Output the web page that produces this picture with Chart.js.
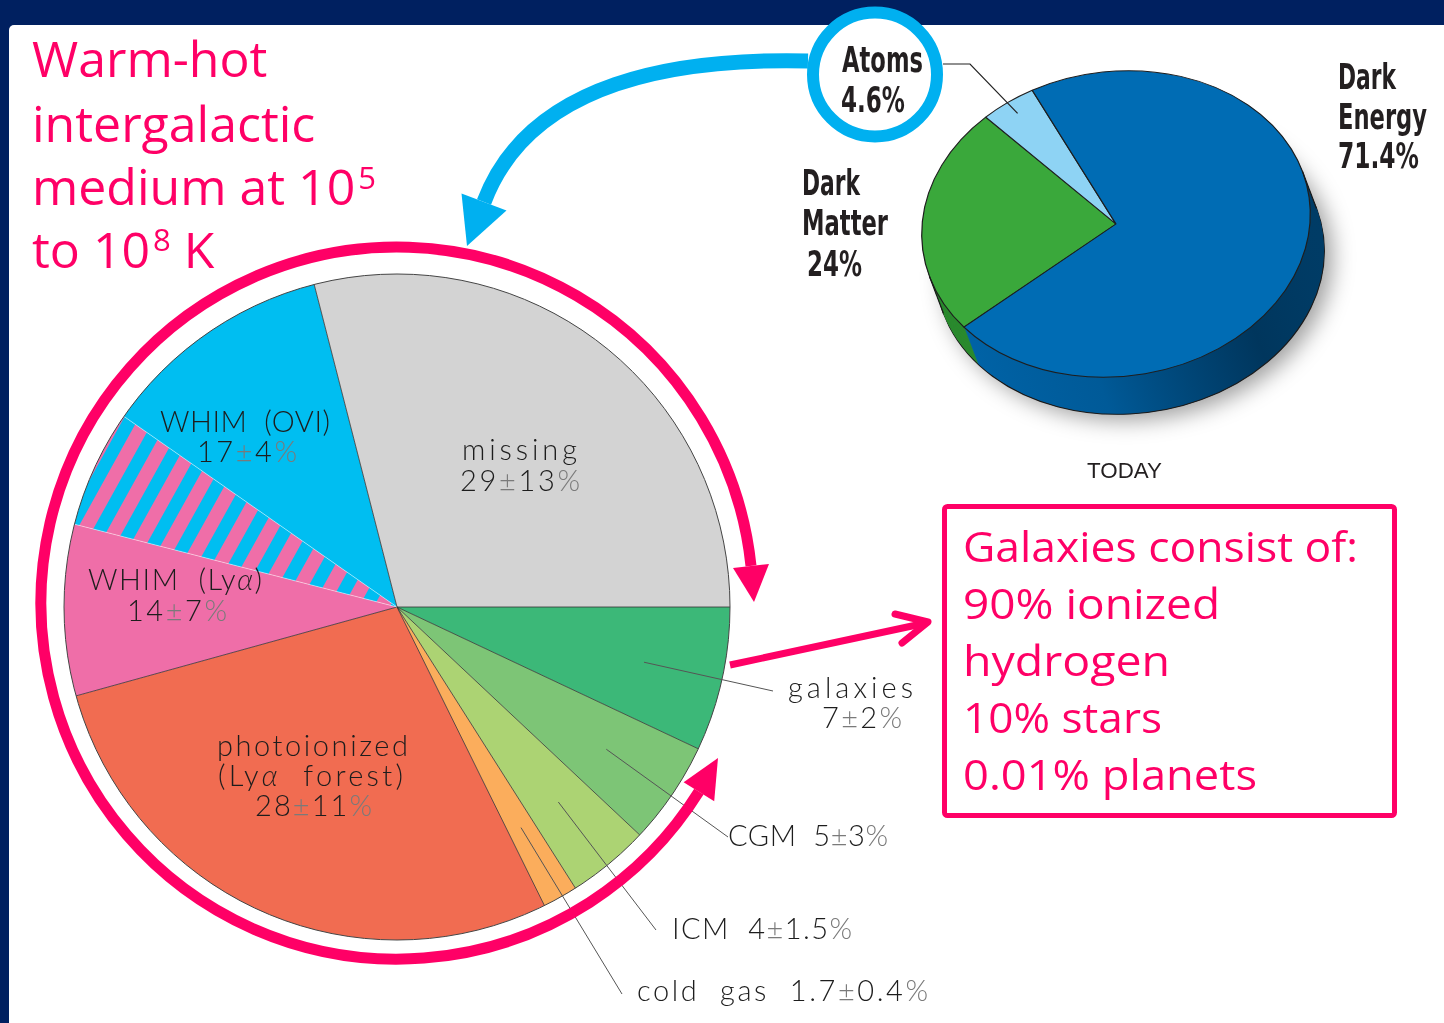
<!DOCTYPE html>
<html lang="en">
<head>
<meta charset="utf-8">
<title>Where are the baryons?</title>
<script src="https://cdn.jsdelivr.net/npm/chart.js@4/dist/chart.umd.min.js"></script>
<style>
  html, body { margin: 0; padding: 0; }
  body { position: relative; width: 1444px; height: 1023px; overflow: hidden; background: #002060; }
  #sheet { position: absolute; left: 9px; top: 25px; width: 1435px; height: 998px; background: #fff; border-top-left-radius: 5px; }
  canvas, svg { position: absolute; left: 0; top: 0; }
  #cosmic { left: 880px; top: 30px; }
  svg text { white-space: pre; }
  .pink { font-family: 'Open Sans', 'Noto Sans', sans-serif; fill: #ff0066; }
  .gas { font-family: Lato, 'Noto Sans', sans-serif; font-size: 29px; font-weight: 300; fill: #1d1d1d; }
  .cosmic { font-family: 'Liberation Sans Narrow', 'DejaVu Sans Condensed', 'Liberation Sans', sans-serif; font-size: 35px; font-weight: bold; fill: #231f20; }
  .today { font-family: 'Liberation Sans', Arial, sans-serif; font-size: 22px; fill: #231f20; }
</style>
</head>
<body>
<div id="sheet"></div>
<canvas id="gas" width="1444" height="1023"></canvas>
<canvas id="cosmic" width="500" height="450"></canvas>
<svg id="ink" width="1444" height="1023" viewBox="0 0 1444 1023">
  <!-- ring of arrows around the gas pie -->
  <path d="M698.9,791.7 A356,356 0 1 1 751.0,565.8" fill="none" stroke="#ff0066" stroke-width="11"/>
  <polygon points="754,602 769,564 733,568" fill="#ff0066"/>
  <polygon points="718,758 714.2,801.2 683.6,782.2" fill="#ff0066"/>

  <!-- atoms feed the gas census -->
  <path d="M808,61 C680,58 530,80 484,202" fill="none" stroke="#00b0f0" stroke-width="15"/>
  <polygon points="467,246 506.5,210.5 461.5,193.5" fill="#00b0f0"/>
  <circle cx="875" cy="74.5" r="62" fill="#fff" stroke="#00b0f0" stroke-width="12"/>

  <!-- galaxies arrow and note -->
  <line x1="730" y1="665" x2="926" y2="623" stroke="#ff0066" stroke-width="7"/>
  <polyline points="895,614 928,622 902,643" fill="none" stroke="#ff0066" stroke-width="7" stroke-linecap="round" stroke-linejoin="round"/>
  <rect x="944.5" y="506.5" width="450" height="309" rx="3" fill="none" stroke="#ff0066" stroke-width="5"/>

  <g class="pink" font-size="50">
    <text x="32" y="77">Warm-hot</text>
    <text x="32" y="142">intergalactic</text>
    <text x="32" y="205">medium at 10<tspan font-size="31" dx="3" dy="-16">5</tspan></text>
    <text x="32" y="268">to 10<tspan font-size="31" dx="3" dy="-17">8</tspan><tspan dy="17"> K</tspan></text>
  </g>
  <g class="pink" font-size="42" lengthAdjust="spacingAndGlyphs">
    <text x="963" y="562" textLength="395" lengthAdjust="spacingAndGlyphs">Galaxies consist of:</text>
    <text x="963" y="619" textLength="257" lengthAdjust="spacingAndGlyphs">90% ionized</text>
    <text x="963" y="676" textLength="207" lengthAdjust="spacingAndGlyphs">hydrogen</text>
    <text x="963" y="733" textLength="199" lengthAdjust="spacingAndGlyphs">10% stars</text>
    <text x="963" y="790" textLength="294" lengthAdjust="spacingAndGlyphs">0.01% planets</text>
  </g>
  <g id="gasLabels" class="gas"></g>
  <g id="cosmicLabels"></g>
</svg>

<script>
// Low-redshift baryon census, percent of all baryons
const componentNames  = ['galaxies', 'CGM', 'ICM', 'cold gas', 'photoionized (Lyα forest)', 'WHIM (Lyα)', 'WHIM (OVI)', 'missing'];
const componentShares = [7, 5, 4, 1.7, 28, 14, 17, 29];
const componentErrors = [2, 3, 1.5, 0.4, 11, 7, 4, 13];
const componentColors = ['#3cb878', '#7dc576', '#acd373', '#fbad5c', '#f16c51', '#ef6ea8', '#00bef1', '#d3d3d3'];

// Cosmic energy budget today, percent
const cosmicNames  = ['Dark Matter', 'Atoms', 'Dark Energy'];
const cosmicShares = [24, 4.6, 71.4];
const cosmicColors = ['#3aa83b', '#8ed3f4', '#006cb4'];
const cosmicSideColors = ['#2b8a2f', '#6bb6da', null];

const LYA = 5, OVI = 6;

// The two WHIM tracers count part of the same gas: the excess over 100 % is shared
const census = componentShares.reduce((s, v) => s + v, 0);
const whimShared = census - 100;
const sliceValues = [
  ...componentShares.slice(0, LYA),
  componentShares[LYA] - whimShared,
  whimShared,
  componentShares[OVI] - whimShared,
  componentShares[7]
];
const sliceNames = [
  ...componentNames.slice(0, LYA),
  componentNames[LYA], componentNames[LYA] + ' / ' + componentNames[OVI], componentNames[OVI],
  componentNames[7]
];

function sharedStripes(ctx) {
  const tile = document.createElement('canvas');
  tile.width = 27; tile.height = 27;
  const t = tile.getContext('2d');
  t.fillStyle = componentColors[OVI]; t.fillRect(0, 0, 27, 27);
  t.fillStyle = componentColors[LYA]; t.fillRect(0, 0, 14, 27);
  const p = ctx.createPattern(tile, 'repeat');
  p.setTransform(new DOMMatrix().rotate(29));
  return p;
}

const gasCtx = document.getElementById('gas').getContext('2d');
const sliceColors = [
  ...componentColors.slice(0, LYA),
  componentColors[LYA], sharedStripes(gasCtx), componentColors[OVI],
  componentColors[7]
];

// leader lines run from the first four slices to their captions
const leaderEnds = [[773, 691], [728, 837], [656, 930], [622, 994]];

const gasOutline = {
  id: 'gasOutline',
  afterDatasetsDraw(chart) {
    const ctx = chart.ctx;
    const arcs = chart.getDatasetMeta(0).data;
    const { x, y, outerRadius: r } = arcs[0];
    ctx.save();
    arcs.forEach((arc, i) => {
      const a = arc.startAngle;
      const insideWhim = i === LYA + 1 || i === LYA + 2;
      ctx.beginPath();
      ctx.moveTo(x, y);
      ctx.lineTo(x + r * Math.cos(a), y + r * Math.sin(a));
      ctx.strokeStyle = insideWhim ? 'rgba(255,255,255,0.45)' : '#333';
      ctx.lineWidth = insideWhim ? 1 : 0.8;
      ctx.stroke();
    });
    ctx.beginPath();
    ctx.arc(x, y, r, 0, Math.PI * 2);
    ctx.strokeStyle = '#444';
    ctx.lineWidth = 1;
    ctx.stroke();

    ctx.strokeStyle = '#555';
    ctx.lineWidth = 1;
    leaderEnds.forEach(([ex, ey], i) => {
      const arc = arcs[i];
      const mid = (arc.startAngle + arc.endAngle) / 2;
      ctx.beginPath();
      ctx.moveTo(x + 0.76 * r * Math.cos(mid), y + 0.76 * r * Math.sin(mid));
      ctx.lineTo(ex, ey);
      ctx.stroke();
    });
    ctx.restore();
  }
};

new Chart(gasCtx, {
  type: 'pie',
  data: {
    labels: sliceNames,
    datasets: [{ data: sliceValues, backgroundColor: sliceColors, borderWidth: 0, hoverOffset: 0 }]
  },
  options: {
    responsive: false,
    animation: false,
    events: [],
    rotation: 90,
    layout: { padding: { left: 64, right: 714, top: 274, bottom: 83 } },
    plugins: { legend: { display: false }, tooltip: { enabled: false } }
  },
  plugins: [gasOutline]
});

// ---- tilted, extruded pie for the cosmic budget ----
const TILT = { cx: 236, cy: 194, a: 194.3, b: -10, d: 153, dx: 14, dy: 37 };

function applyTilt(ctx, arc) {
  const R = arc.outerRadius;
  ctx.translate(TILT.cx, TILT.cy);
  ctx.transform(TILT.a / R, TILT.b / R, 0, TILT.d / R, 0, 0);
  ctx.translate(-arc.x, -arc.y);
}
function toScreen(u, v) {
  return [TILT.cx + TILT.a * u, TILT.cy + TILT.b * u + TILT.d * v];
}
function sideFill(ctx, i, cx, R) {
  if (cosmicSideColors[i]) return cosmicSideColors[i];
  const g = ctx.createLinearGradient(cx - R, 0, cx + R, 0);
  g.addColorStop(0, '#0065aa');
  g.addColorStop(0.45, '#005a98');
  g.addColorStop(0.85, '#00365d');
  g.addColorStop(1, '#003c66');
  return g;
}

const extrude = {
  id: 'extrude',
  beforeDatasetsDraw(chart) {
    const ctx = chart.ctx;
    const arcs = chart.getDatasetMeta(0).data;
    const a0 = arcs[0];
    const { x, y, outerRadius: R } = a0;

    // soft drop shadow under the disc
    ctx.save();
    ctx.translate(TILT.dx, TILT.dy);
    applyTilt(ctx, a0);
    ctx.shadowColor = 'rgba(0,0,0,0.38)';
    ctx.shadowBlur = 22;
    ctx.shadowOffsetX = 8;
    ctx.shadowOffsetY = 6;
    ctx.beginPath();
    ctx.arc(x, y, R, 0, Math.PI * 2);
    ctx.fillStyle = '#00365d';
    ctx.fill();
    ctx.restore();

    for (let s = TILT.dy; s >= 1; s--) {
      ctx.save();
      ctx.translate(TILT.dx * s / TILT.dy, s);
      applyTilt(ctx, a0);
      arcs.forEach((arc, i) => {
        ctx.beginPath();
        ctx.moveTo(x, y);
        ctx.arc(x, y, R, arc.startAngle, arc.endAngle);
        ctx.closePath();
        ctx.fillStyle = sideFill(ctx, i, x, R);
        ctx.fill();
      });
      if (s === TILT.dy) {
        ctx.beginPath();
        ctx.arc(x, y, R, 0, Math.PI * 2);
        ctx.strokeStyle = '#1b1b1b';
        ctx.lineWidth = 1.5;
        ctx.stroke();
      }
      ctx.restore();
    }
    ctx.save();
    applyTilt(ctx, a0);
  },
  afterDatasetsDraw(chart) {
    const ctx = chart.ctx;
    ctx.restore();
    const arcs = chart.getDatasetMeta(0).data;

    // silhouette edges of the side wall
    const wu = TILT.dx / TILT.a;
    const wv = (TILT.dy - TILT.b * wu) / TILT.d;
    const t0 = Math.atan2(-wu, wv);
    ctx.save();
    ctx.strokeStyle = '#1b1b1b';
    ctx.lineWidth = 1.2;
    [t0, t0 + Math.PI].forEach(t => {
      const [px, py] = toScreen(Math.cos(t), Math.sin(t));
      ctx.beginPath();
      ctx.moveTo(px, py);
      ctx.lineTo(px + TILT.dx, py + TILT.dy);
      ctx.stroke();
    });

    // leader from the Atoms caption into its slice
    const atoms = arcs[1];
    const mid = (atoms.startAngle + atoms.endAngle) / 2;
    const [lx, ly] = toScreen(0.91 * Math.cos(mid), 0.91 * Math.sin(mid));
    ctx.strokeStyle = '#222';
    ctx.lineWidth = 1.2;
    ctx.beginPath();
    ctx.moveTo(63, 34);
    ctx.lineTo(90, 34);
    ctx.lineTo(lx, ly);
    ctx.stroke();
    ctx.restore();
  }
};

new Chart(document.getElementById('cosmic').getContext('2d'), {
  type: 'pie',
  data: {
    labels: cosmicNames,
    datasets: [{
      data: cosmicShares,
      backgroundColor: cosmicColors,
      borderColor: '#1e1e1e',
      borderWidth: 1.4,
      hoverOffset: 0,
      clip: false
    }]
  },
  options: {
    responsive: false,
    animation: false,
    events: [],
    rotation: 231.5,
    plugins: { legend: { display: false }, tooltip: { enabled: false } }
  },
  plugins: [extrude]
});

// ---- captions ----
const SVGNS = 'http://www.w3.org/2000/svg';
function addText(parent, x, y, attrs, parts) {
  const t = document.createElementNS(SVGNS, 'text');
  t.setAttribute('x', x);
  t.setAttribute('y', y);
  Object.entries(attrs).forEach(([k, v]) => t.setAttribute(k, v));
  parts.forEach(p => {
    if (typeof p === 'string') { t.appendChild(document.createTextNode(p)); return; }
    const s = document.createElementNS(SVGNS, 'tspan');
    Object.entries(p.attrs).forEach(([k, v]) => s.setAttribute(k, v));
    s.textContent = p.text;
    t.appendChild(s);
  });
  parent.appendChild(t);
}
function nameParts(str) {
  const out = [];
  str.replace(/ /g, '  ').split('α').forEach((seg, i) => {
    if (i > 0) out.push({ text: 'α', attrs: { 'font-style': 'italic' } });
    if (seg) out.push(seg);
  });
  return out;
}
function valueParts(i) {
  return [String(componentShares[i]), { text: '±', attrs: { fill: '#7a7a7a' } },
          String(componentErrors[i]), { text: '%', attrs: { fill: '#7a7a7a' } }];
}

// caption placement: [content, x, y, width, anchor]
const gasCaptionLayout = [
  [['name', 788, 698, 125, 'start'], ['value', 822, 728, 80, 'start']],
  [['both', 728, 846, 160, 'start']],
  [['both', 672, 939, 180, 'start']],
  [['both', 637, 1001, 291, 'start']],
  [['name0', 312.5, 756, 191, 'middle'], ['name1', 310.5, 786, 185, 'middle'], ['value', 313.5, 816, 117, 'middle']],
  [['name', 175, 590, 174, 'middle'], ['value', 177, 621, 100, 'middle']],
  [['name', 245, 432, 170, 'middle'], ['value', 247, 462, 100, 'middle']],
  [['name', 519.5, 460, 115, 'middle'], ['value', 520, 491, 120, 'middle']]
];
const gasGroup = document.getElementById('gasLabels');
gasCaptionLayout.forEach((lines, i) => {
  const name = componentNames[i];
  const split = name.indexOf(' (');
  lines.forEach(([what, x, y, w, anchor]) => {
    let parts;
    if (what === 'name') parts = nameParts(name);
    else if (what === 'name0') parts = nameParts(name.slice(0, split));
    else if (what === 'name1') parts = nameParts(name.slice(split + 1));
    else if (what === 'value') parts = valueParts(i);
    else parts = [...nameParts(name), '  ', ...valueParts(i)];
    addText(gasGroup, x, y, { 'text-anchor': anchor, textLength: w, lengthAdjust: 'spacing' }, parts);
  });
});

const cosmicGroup = document.getElementById('cosmicLabels');
const cosmicCaptionLayout = [
  [[802, 195, 58], [802, 235, 86], [807, 276, 55]],
  [[842, 72, 81], [841, 112, 64]],
  [[1338, 89, 58], [1338, 129, 89], [1338, 168, 81]]
];
cosmicCaptionLayout.forEach((lines, i) => {
  const texts = [...cosmicNames[i].split(' '), cosmicShares[i] + '%'];
  lines.forEach(([x, y, w], k) => {
    addText(cosmicGroup, x, y, { class: 'cosmic', textLength: w, lengthAdjust: 'spacingAndGlyphs' }, [texts[k]]);
  });
});
addText(cosmicGroup, 1087, 478, { class: 'today', textLength: 75, lengthAdjust: 'spacingAndGlyphs' }, ['TODAY']);
</script>
</body>
</html>
